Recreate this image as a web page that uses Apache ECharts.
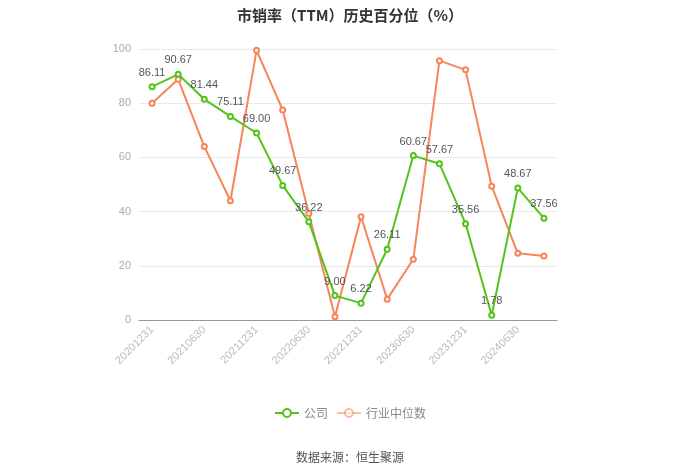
<!DOCTYPE html>
<html>
<head>
<meta charset="utf-8">
<script src="https://cdn.jsdelivr.net/npm/echarts@6/dist/echarts.min.js"></script>
<style>
  html, body { margin: 0; padding: 0; background: #fff; }
  #main { width: 700px; height: 474px; }
</style>
</head>
<body>
<div id="main"></div>
<script>
// 季度日期
var dates = ['20201231', '20210331', '20210630', '20210930', '20211231', '20220331', '20220630', '20220930',
  '20221231', '20230331', '20230630', '20230930', '20231231', '20240331', '20240630', '20240930'];
// 公司
var company = [86.11, 90.67, 81.44, 75.11, 69.00, 49.67, 36.22, 9.00, 6.22, 26.11, 60.67, 57.67, 35.56, 1.78, 48.67, 37.56];
// 行业中位数
var industry = [80.0, 88.8, 64.0, 44.0, 99.5, 77.5, 39.3, 1.2, 38.1, 7.7, 22.4, 95.7, 92.3, 49.4, 24.6, 23.6];

var myChart = echarts.init(document.getElementById('main'));
var options = {
  title: {
    text: '市销率（TTM）历史百分位（%）',
    left: 'center',
    top: 3,
    textStyle: { fontSize: 15, fontWeight: 'bold', color: '#333', fontFamily: 'Noto Sans CJK SC' }
  },
  legend: {
    bottom: 50,
    left: 'center',
    itemWidth: 24,
    itemHeight: 10,
    textStyle: { color: '#888', fontSize: 12, fontFamily: 'Noto Sans CJK SC' },
    data: [
      { name: '公司' },
      { name: '行业中位数', itemStyle: { opacity: 0.55 }, lineStyle: { opacity: 0.55 } }
    ]
  },
  graphic: [{
    type: 'text',
    left: 'center',
    top: 451,
    style: { text: '数据来源：恒生聚源', fill: '#555', fontSize: 12, fontFamily: 'Noto Sans CJK SC' }
  }],
  grid: { left: 139, right: 143, top: 49, bottom: 154 },
  xAxis: {
    type: 'category',
    boundaryGap: true,
    data: dates,
    axisLine: { lineStyle: { color: '#999' } },
    axisTick: { alignWithLabel: true, interval: 1, lineStyle: { color: '#999' } },
    axisLabel: { interval: 1, rotate: 45, color: '#bbb', fontSize: 11, margin: 8 }
  },
  yAxis: {
    type: 'value',
    min: 0,
    max: 100,
    interval: 20,
    axisLine: { show: false },
    axisTick: { show: false },
    axisLabel: { color: '#aaa', fontSize: 11, margin: 8 },
    splitLine: { lineStyle: { color: '#eaeaea' } }
  },
  series: [
    {
      name: '公司',
      type: 'line',
      data: company,
      z: 3,
      symbol: 'emptyCircle',
      symbolSize: 5,
      itemStyle: { color: '#52c41a' },
      lineStyle: { width: 2, color: '#52c41a' },
      label: {
        show: true,
        position: 'top',
        color: '#555',
        fontSize: 11,
        formatter: function (p) { return p.value.toFixed(2); }
      }
    },
    {
      name: '行业中位数',
      type: 'line',
      data: industry,
      z: 2,
      symbol: 'emptyCircle',
      symbolSize: 5,
      itemStyle: { color: '#f7845a' },
      lineStyle: { width: 2, color: '#f7845a' }
    }
  ]
};
myChart.setOption(options, true);
</script>
</body>
</html>
